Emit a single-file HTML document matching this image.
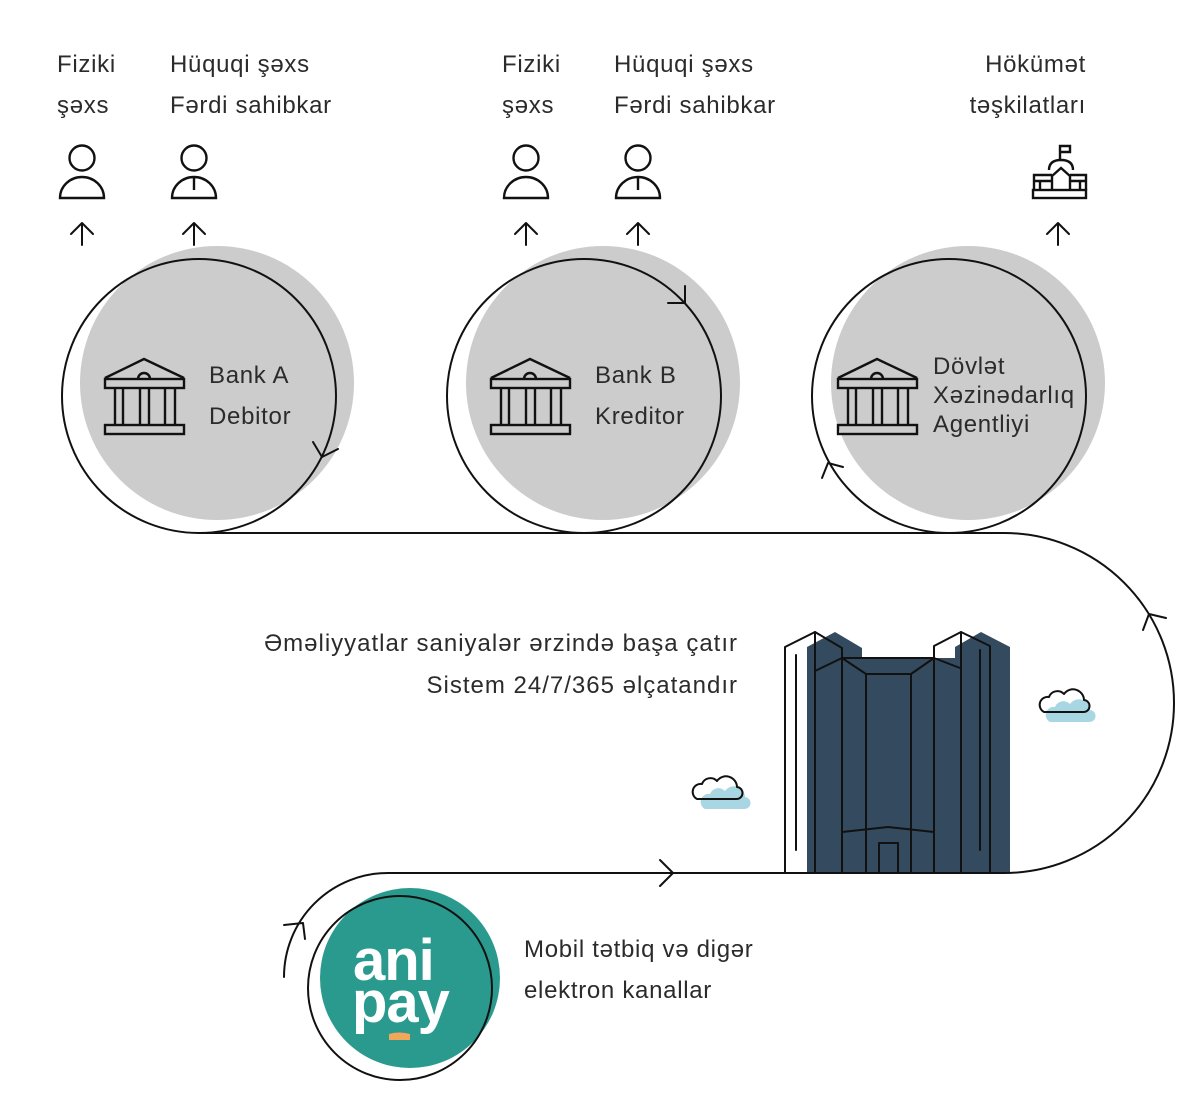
<!DOCTYPE html>
<html>
<head>
<meta charset="utf-8">
<style>
  html, body { margin:0; padding:0; background:#ffffff; }
  body { width:1200px; height:1102px; overflow:hidden; }
  svg { display:block; }
  .t { font-family:"Liberation Sans", "DejaVu Sans", sans-serif; font-size:24px; fill:#2b2b2b; letter-spacing:0.7px; }
  .tw { letter-spacing:1px; }
  .ln { fill:none; stroke:#111111; stroke-width:2; stroke-linecap:round; stroke-linejoin:round; }
  .ic { fill:none; stroke:#111111; stroke-width:2.4; stroke-linejoin:miter; }
</style>
</head>
<body>
<svg width="1200" height="1102" viewBox="0 0 1200 1102" xmlns="http://www.w3.org/2000/svg">
  <!-- Top labels -->
  <text class="t" x="57" y="72">Fiziki</text>
  <text class="t" x="57" y="113">şəxs</text>
  <text class="t" x="170" y="72">Hüquqi şəxs</text>
  <text class="t" x="170" y="113">Fərdi sahibkar</text>

  <text class="t" x="502" y="72">Fiziki</text>
  <text class="t" x="502" y="113">şəxs</text>
  <text class="t" x="614" y="72">Hüquqi şəxs</text>
  <text class="t" x="614" y="113">Fərdi sahibkar</text>

  <text class="t" x="1086" y="72" text-anchor="end">Hökümət</text>
  <text class="t" x="1086" y="113" text-anchor="end">təşkilatları</text>

  <!-- Person icons -->
  <g class="ic" stroke-width="2.2">
    <circle cx="82" cy="158" r="12.5"/>
    <path d="M60,198 A22,21 0 0 1 104,198 Z"/>
    <circle cx="194" cy="158" r="12.5"/>
    <path d="M172,198 A22,21 0 0 1 216,198 Z M194,177 V190"/>
    <circle cx="526" cy="158" r="12.5"/>
    <path d="M504,198 A22,21 0 0 1 548,198 Z"/>
    <circle cx="638" cy="158" r="12.5"/>
    <path d="M616,198 A22,21 0 0 1 660,198 Z M638,177 V190"/>
  </g>

  <!-- Government icon -->
  <g class="ic" stroke-width="2">
    <path d="M1060,160 V146 H1070 V152 H1060"/>
    <path d="M1049,170 Q1049,160 1061,160 Q1073,160 1073,170"/>
    <path d="M1052,190 V176 L1061,168 L1070,176 V190"/>
    <path d="M1034,190 V175 H1052 M1034,181 H1052 M1070,175 H1086 V190 M1070,181 H1086"/>
    <path d="M1040,181 V190 M1080,181 V190"/>
    <rect x="1033" y="190" width="53" height="8"/>
  </g>

  <!-- Up arrows -->
  <g class="ln" stroke-width="2.2">
    <path d="M82,245 V223 M71,234 L82,223 L93,234"/>
    <path d="M194,245 V223 M183,234 L194,223 L205,234"/>
    <path d="M526,245 V223 M515,234 L526,223 L537,234"/>
    <path d="M638,245 V223 M627,234 L638,223 L649,234"/>
    <path d="M1058,245 V223 M1047,234 L1058,223 L1069,234"/>
  </g>

  <!-- Gray discs -->
  <circle cx="217" cy="383" r="137" fill="#cccccc"/>
  <circle cx="603" cy="383" r="137" fill="#cccccc"/>
  <circle cx="968" cy="383" r="137" fill="#cccccc"/>

  <!-- Outline circles -->
  <g class="ln">
    <circle cx="199" cy="396" r="137"/>
    <circle cx="584" cy="396" r="137"/>
    <circle cx="949" cy="396" r="137"/>
  </g>

  <!-- Circle arrowheads -->
  <g class="ln">
    <path d="M313,442 L322,457 L338,449"/>
    <path d="M668,303 L685,303 L685,286"/>
    <path d="M822,478 L828,463 L843,467"/>
  </g>

  <!-- Bank icons -->
  <g class="ic">
    <g>
      <path d="M105,378 L144,359 L184,378"/>
      <path d="M138,379 A6,6 0 0 1 150,379"/>
      <rect x="105" y="379" width="79" height="9"/>
      <path d="M115,388 V425 M123,388 V425 M140,388 V425 M149,388 V425 M165,388 V425 M175,388 V425"/>
      <rect x="105" y="425" width="79" height="9"/>
    </g>
    <g transform="translate(386,0)">
      <path d="M105,378 L144,359 L184,378"/>
      <path d="M138,379 A6,6 0 0 1 150,379"/>
      <rect x="105" y="379" width="79" height="9"/>
      <path d="M115,388 V425 M123,388 V425 M140,388 V425 M149,388 V425 M165,388 V425 M175,388 V425"/>
      <rect x="105" y="425" width="79" height="9"/>
    </g>
    <g transform="translate(733,0)">
      <path d="M105,378 L144,359 L184,378"/>
      <path d="M138,379 A6,6 0 0 1 150,379"/>
      <rect x="105" y="379" width="79" height="9"/>
      <path d="M115,388 V425 M123,388 V425 M140,388 V425 M149,388 V425 M165,388 V425 M175,388 V425"/>
      <rect x="105" y="425" width="79" height="9"/>
    </g>
  </g>

  <!-- Bank labels -->
  <text class="t" x="209" y="383">Bank A</text>
  <text class="t" x="209" y="424">Debitor</text>
  <text class="t" x="595" y="383">Bank B</text>
  <text class="t" x="595" y="424">Kreditor</text>
  <text class="t" x="933" y="374">Dövlət</text>
  <text class="t" x="933" y="403">Xəzinədarlıq</text>
  <text class="t" x="933" y="432">Agentliyi</text>

  <!-- Building -->
  <path d="M807,647 L835,632 L862,648 V658 H955 V647 L981,632 L1010,647 V873 H807 Z" fill="#344b5f"/>
  <g class="ln" stroke-width="2">
    <path d="M785,873 V647 L815,632 L842,648 V873"/>
    <path d="M796,655 V850"/>
    <path d="M815,632 V873"/>
    <path d="M815,671 L842,658 L934,658 L960,668"/>
    <path d="M842,658 L866,674 H911 L934,658"/>
    <path d="M866,674 V873 M911,674 V873"/>
    <path d="M934,873 V646 L961,632 L990,646 V873"/>
    <path d="M961,632 V873"/>
    <path d="M980,650 V850"/>
    <path d="M842,832 L888,827 L934,832"/>
    <path d="M879,873 V843 H898 V873"/>
  </g>

  <!-- Main path -->
  <g class="ln">
    <path d="M199,533 H1004 A170,170 0 0 1 1004,873 H388 A104,104 0 0 0 284,977"/>
    <path d="M1143,630 L1149,614 L1166,618"/>
    <path d="M660,860 L673,873 L660,886"/>
    <path d="M284,925 L303,923 L305,939"/>
  </g>

  <!-- Clouds -->
  <g>
    <path transform="translate(1043,697)" d="M7,25 H46 A6,6 0 0 0 47,13 A11,11 0 0 0 27,7 A9,9 0 0 0 12,10 A8,8 0 0 0 7,25 Z" fill="#a9d6e3"/>
    <path transform="translate(1037,687)" class="ln" d="M7,25 H46 A6,6 0 0 0 47,13 A11,11 0 0 0 27,7 A9,9 0 0 0 12,10 A8,8 0 0 0 7,25 Z"/>
    <path transform="translate(698,784)" d="M7,25 H46 A6,6 0 0 0 47,13 A11,11 0 0 0 27,7 A9,9 0 0 0 12,10 A8,8 0 0 0 7,25 Z" fill="#a9d6e3"/>
    <path transform="translate(690,774)" class="ln" d="M7,25 H46 A6,6 0 0 0 47,13 A11,11 0 0 0 27,7 A9,9 0 0 0 12,10 A8,8 0 0 0 7,25 Z"/>
  </g>

  <!-- Middle text -->
  <text class="t tw" x="738" y="651" text-anchor="end">Əməliyyatlar saniyalər ərzində başa çatır</text>
  <text class="t tw" x="738" y="693" text-anchor="end">Sistem 24/7/365 əlçatandır</text>

  <!-- Anipay -->
  <circle cx="410" cy="978" r="90" fill="#2a9a8e"/>
  <circle cx="400" cy="988" r="92" class="ln"/>
  <text x="353" y="980" font-family="Liberation Sans, sans-serif" font-weight="bold" font-size="58" fill="#ffffff" letter-spacing="-1">ani</text>
  <text x="352" y="1022" font-family="Liberation Sans, sans-serif" font-weight="bold" font-size="58" fill="#ffffff" letter-spacing="-1">pay</text>
  <path d="M389,1034 Q399,1031 410,1034 V1040 H389 Z" fill="#f2a65a"/>

  <!-- Bottom text -->
  <text class="t" x="524" y="957">Mobil tətbiq və digər</text>
  <text class="t" x="524" y="998">elektron kanallar</text>
</svg>
</body>
</html>
